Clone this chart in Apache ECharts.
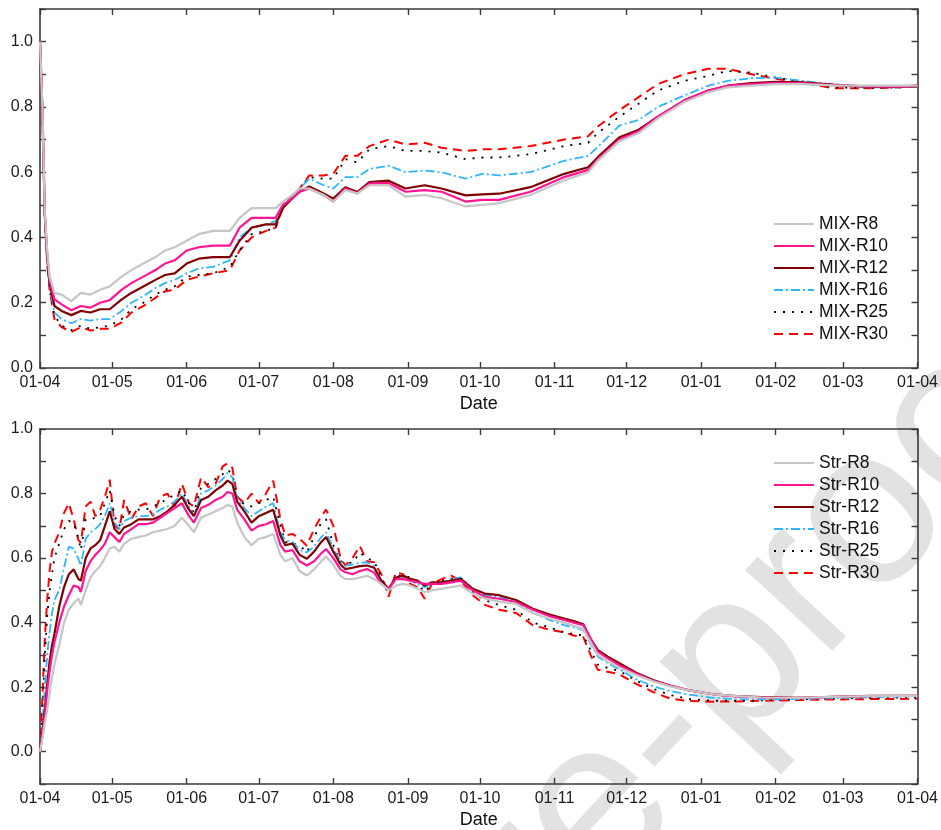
<!DOCTYPE html>
<html>
<head>
<meta charset="utf-8">
<script src="https://cdn.jsdelivr.net/npm/echarts@6/dist/echarts.min.js"></script>
<style>
  html, body { margin: 0; padding: 0; background: #ffffff; }
  #chart { width: 941px; height: 830px; }
</style>
</head>
<body>
<div id="chart"></div>
<script>
// Month boundaries shown on both date axes
const tickDates = ['2020-04-01','2020-05-01','2020-06-01','2020-07-01','2020-08-01','2020-09-01',
  '2020-10-01','2020-11-01','2020-12-01','2021-01-01','2021-02-01','2021-03-01','2021-04-01'];
const tickLabels = ['01-04','01-05','01-06','01-07','01-08','01-09','01-10','01-11','01-12','01-01','01-02','01-03','01-04'];

// ---- Upper panel: MIX strategies ----
const mixDates = ['2020-04-01','2020-04-02','2020-04-03','2020-04-04','2020-04-05','2020-04-07','2020-04-10','2020-04-14','2020-04-18','2020-04-22',
  '2020-04-26','2020-04-30','2020-05-05','2020-05-09','2020-05-14','2020-05-19','2020-05-23','2020-05-27','2020-06-01','2020-06-06',
  '2020-06-12','2020-06-19','2020-06-23','2020-06-28','2020-07-04','2020-07-08','2020-07-11','2020-07-15','2020-07-18','2020-07-22',
  '2020-07-28','2020-08-01','2020-08-06','2020-08-11','2020-08-16','2020-08-24','2020-08-31','2020-09-08','2020-09-15','2020-09-25',
  '2020-10-02','2020-10-09','2020-10-22','2020-11-05','2020-11-15','2020-11-19','2020-11-28','2020-12-06','2020-12-14','2020-12-25',
  '2021-01-04','2021-01-12','2021-01-22','2021-02-01','2021-02-12','2021-02-25','2021-03-11','2021-03-25','2021-04-01'];
const mixR8 = [1.0,0.80,0.48,0.36,0.28,0.23,0.225,0.205,0.23,0.225,
  0.24,0.25,0.28,0.30,0.32,0.34,0.36,0.37,0.39,0.41,
  0.42,0.42,0.46,0.49,0.49,0.49,0.51,0.53,0.55,0.55,
  0.53,0.51,0.545,0.535,0.56,0.56,0.525,0.53,0.52,0.495,
  0.50,0.505,0.53,0.575,0.60,0.635,0.695,0.72,0.765,0.815,
  0.845,0.86,0.865,0.87,0.87,0.866,0.865,0.865,0.866];
const mixR10 = [1.0,0.79,0.47,0.35,0.27,0.21,0.195,0.177,0.19,0.185,
  0.20,0.208,0.24,0.26,0.28,0.30,0.32,0.33,0.36,0.37,
  0.375,0.375,0.43,0.46,0.46,0.46,0.50,0.52,0.54,0.55,
  0.53,0.51,0.55,0.535,0.565,0.567,0.54,0.545,0.54,0.51,
  0.515,0.515,0.54,0.585,0.607,0.64,0.70,0.725,0.77,0.82,
  0.85,0.865,0.87,0.874,0.873,0.867,0.863,0.862,0.864];
const mixR12 = [1.0,0.79,0.47,0.34,0.26,0.19,0.175,0.162,0.175,0.17,
  0.18,0.18,0.21,0.23,0.25,0.27,0.285,0.29,0.32,0.335,
  0.34,0.34,0.39,0.43,0.44,0.44,0.49,0.52,0.54,0.556,
  0.535,0.519,0.554,0.539,0.57,0.574,0.55,0.56,0.55,0.529,
  0.532,0.534,0.554,0.595,0.615,0.646,0.707,0.73,0.77,0.82,
  0.85,0.865,0.873,0.877,0.875,0.868,0.862,0.862,0.863];
const mixR16 = [1.0,0.78,0.46,0.33,0.25,0.17,0.15,0.137,0.15,0.145,
  0.15,0.15,0.175,0.20,0.22,0.245,0.26,0.27,0.29,0.305,
  0.31,0.33,0.40,0.43,0.44,0.45,0.50,0.53,0.55,0.58,
  0.56,0.55,0.585,0.585,0.61,0.62,0.60,0.605,0.60,0.58,
  0.595,0.59,0.60,0.635,0.65,0.677,0.743,0.76,0.80,0.835,
  0.865,0.88,0.888,0.89,0.88,0.868,0.86,0.86,0.862];
const mixR25 = [1.0,0.78,0.46,0.32,0.24,0.16,0.13,0.116,0.13,0.12,
  0.125,0.13,0.15,0.18,0.20,0.225,0.24,0.25,0.28,0.285,
  0.29,0.31,0.36,0.41,0.42,0.43,0.49,0.53,0.55,0.585,
  0.58,0.58,0.64,0.63,0.67,0.68,0.665,0.665,0.66,0.64,
  0.645,0.645,0.655,0.68,0.69,0.72,0.77,0.81,0.85,0.88,
  0.895,0.91,0.905,0.89,0.875,0.86,0.858,0.86,0.865];
const mixR30 = [1.0,0.78,0.46,0.32,0.24,0.15,0.125,0.11,0.125,0.115,
  0.12,0.12,0.14,0.17,0.19,0.215,0.235,0.24,0.27,0.28,
  0.29,0.30,0.36,0.40,0.42,0.43,0.49,0.53,0.55,0.59,
  0.59,0.595,0.65,0.65,0.68,0.70,0.685,0.69,0.675,0.665,
  0.67,0.67,0.68,0.70,0.71,0.74,0.79,0.83,0.87,0.90,
  0.917,0.917,0.90,0.886,0.875,0.857,0.857,0.86,0.868];

// ---- Lower panel: Str strategies ----
const strDates = ['2020-04-01','2020-04-02','2020-04-03','2020-04-04','2020-04-05','2020-04-06','2020-04-07','2020-04-09','2020-04-11','2020-04-13',
  '2020-04-15','2020-04-17','2020-04-18','2020-04-20','2020-04-22','2020-04-24','2020-04-26','2020-04-28','2020-04-30','2020-05-02',
  '2020-05-04','2020-05-06','2020-05-09','2020-05-12','2020-05-15','2020-05-18','2020-05-21','2020-05-24','2020-05-27','2020-05-30',
  '2020-06-02','2020-06-04','2020-06-07','2020-06-10','2020-06-13','2020-06-16','2020-06-18','2020-06-20','2020-06-22','2020-06-25',
  '2020-06-28','2020-07-01','2020-07-04','2020-07-07','2020-07-10','2020-07-12','2020-07-15','2020-07-18','2020-07-21','2020-07-24',
  '2020-07-27','2020-07-29','2020-08-01','2020-08-04','2020-08-06','2020-08-09','2020-08-12','2020-08-15','2020-08-18','2020-08-21',
  '2020-08-24','2020-08-27','2020-08-30','2020-09-02','2020-09-05','2020-09-08','2020-09-11','2020-09-15','2020-09-19','2020-09-23',
  '2020-09-28','2020-10-03','2020-10-09','2020-10-16','2020-10-23','2020-10-30','2020-11-05','2020-11-09','2020-11-13','2020-11-16',
  '2020-11-19','2020-11-23','2020-11-28','2020-12-05','2020-12-12','2020-12-19','2020-12-27','2021-01-06','2021-01-16','2021-01-26',
  '2021-02-10','2021-02-25','2021-03-12','2021-04-01'];
const strR8 = [0.00,0.04,0.09,0.13,0.18,0.23,0.27,0.33,0.40,0.44,
  0.46,0.475,0.455,0.50,0.54,0.56,0.575,0.60,0.63,0.635,
  0.62,0.645,0.66,0.665,0.67,0.68,0.685,0.69,0.70,0.725,
  0.70,0.68,0.725,0.735,0.745,0.755,0.765,0.76,0.71,0.665,
  0.64,0.66,0.665,0.675,0.61,0.59,0.60,0.56,0.546,0.565,
  0.59,0.605,0.58,0.545,0.535,0.535,0.54,0.545,0.535,0.52,
  0.50,0.515,0.52,0.515,0.505,0.495,0.50,0.505,0.51,0.515,
  0.49,0.475,0.465,0.458,0.43,0.412,0.40,0.39,0.38,0.34,
  0.30,0.28,0.26,0.238,0.218,0.203,0.19,0.178,0.172,0.168,
  0.167,0.170,0.172,0.173];
const strR10 = [0.00,0.05,0.11,0.19,0.25,0.30,0.34,0.40,0.45,0.485,
  0.515,0.51,0.495,0.56,0.59,0.61,0.625,0.645,0.68,0.665,
  0.65,0.675,0.69,0.705,0.705,0.71,0.725,0.74,0.755,0.77,
  0.73,0.71,0.755,0.765,0.78,0.79,0.805,0.80,0.75,0.72,
  0.685,0.70,0.705,0.715,0.64,0.62,0.625,0.59,0.577,0.59,
  0.615,0.628,0.60,0.565,0.556,0.55,0.56,0.566,0.555,0.52,
  0.505,0.535,0.535,0.53,0.525,0.52,0.52,0.52,0.525,0.53,
  0.50,0.48,0.474,0.464,0.44,0.42,0.408,0.40,0.392,0.35,
  0.31,0.29,0.268,0.242,0.22,0.205,0.19,0.178,0.171,0.168,
  0.167,0.170,0.172,0.173];
const strR12 = [0.00,0.06,0.13,0.21,0.28,0.33,0.365,0.45,0.51,0.55,
  0.565,0.535,0.53,0.60,0.63,0.64,0.655,0.70,0.745,0.69,
  0.675,0.695,0.705,0.72,0.72,0.72,0.73,0.745,0.765,0.79,
  0.75,0.73,0.78,0.79,0.81,0.825,0.84,0.83,0.775,0.745,
  0.71,0.73,0.74,0.75,0.67,0.64,0.645,0.61,0.598,0.62,
  0.65,0.665,0.62,0.58,0.566,0.57,0.575,0.577,0.57,0.53,
  0.505,0.54,0.545,0.536,0.53,0.515,0.525,0.525,0.53,0.536,
  0.505,0.49,0.485,0.47,0.443,0.425,0.413,0.405,0.395,0.35,
  0.315,0.295,0.274,0.245,0.222,0.205,0.19,0.178,0.172,0.169,
  0.167,0.170,0.173,0.173];
const strR16 = [0.00,0.08,0.20,0.30,0.37,0.43,0.47,0.50,0.57,0.635,
  0.63,0.597,0.577,0.66,0.68,0.69,0.705,0.73,0.77,0.71,
  0.69,0.715,0.725,0.73,0.73,0.735,0.75,0.76,0.775,0.80,
  0.76,0.73,0.80,0.81,0.825,0.845,0.864,0.85,0.785,0.755,
  0.73,0.745,0.76,0.77,0.68,0.655,0.65,0.625,0.618,0.635,
  0.665,0.68,0.63,0.59,0.577,0.58,0.585,0.587,0.575,0.53,
  0.50,0.54,0.54,0.532,0.52,0.51,0.52,0.525,0.535,0.54,
  0.505,0.485,0.48,0.465,0.43,0.408,0.392,0.385,0.377,0.335,
  0.295,0.275,0.255,0.225,0.203,0.188,0.177,0.167,0.163,0.162,
  0.163,0.166,0.169,0.172];
const strR25 = [0.00,0.12,0.30,0.42,0.50,0.55,0.60,0.645,0.69,0.715,
  0.71,0.66,0.625,0.72,0.72,0.725,0.73,0.77,0.81,0.73,
  0.70,0.735,0.745,0.75,0.75,0.76,0.77,0.785,0.795,0.81,
  0.77,0.74,0.82,0.83,0.845,0.86,0.874,0.86,0.79,0.765,
  0.76,0.77,0.78,0.79,0.70,0.65,0.645,0.64,0.618,0.665,
  0.71,0.72,0.64,0.59,0.587,0.585,0.617,0.60,0.59,0.54,
  0.49,0.545,0.546,0.54,0.52,0.495,0.52,0.53,0.536,0.536,
  0.495,0.47,0.454,0.44,0.40,0.385,0.37,0.365,0.36,0.315,
  0.27,0.26,0.25,0.22,0.195,0.176,0.163,0.158,0.158,0.159,
  0.162,0.165,0.167,0.168];
const strR30 = [0.00,0.17,0.35,0.47,0.56,0.62,0.645,0.68,0.74,0.77,
  0.72,0.655,0.648,0.76,0.775,0.73,0.75,0.79,0.843,0.70,
  0.69,0.78,0.72,0.76,0.77,0.73,0.79,0.80,0.76,0.83,
  0.77,0.76,0.85,0.82,0.83,0.884,0.894,0.88,0.79,0.77,
  0.80,0.77,0.80,0.84,0.72,0.67,0.675,0.66,0.638,0.69,
  0.73,0.75,0.70,0.60,0.577,0.60,0.638,0.59,0.587,0.55,
  0.48,0.556,0.55,0.52,0.51,0.474,0.52,0.535,0.546,0.53,
  0.485,0.455,0.44,0.43,0.392,0.378,0.37,0.36,0.355,0.30,
  0.254,0.248,0.24,0.21,0.185,0.165,0.157,0.155,0.156,0.158,
  0.16,0.162,0.163,0.164];

// Series appearance shared by both panels
const styles = [
  { color: '#c6c6c6', width: 2.2, type: 'solid' },
  { color: '#ff1493', width: 2.2, type: 'solid' },
  { color: '#7f0000', width: 2.2, type: 'solid' },
  { color: '#2fb4ff', width: 1.8, type: [9, 3, 2, 3] },
  { color: '#000000', width: 1.8, type: [2, 7] },
  { color: '#ff0000', width: 2,   type: [9, 6] }
];

const FONT = '"Liberation Sans", Arial, sans-serif';
const AXIS_COLOR = '#3a3a3a';

// Dates are read as local calendar days and placed on a numeric (ms) axis
function toTime(s) {
  const p = s.split('-').map(Number);
  return new Date(p[0], p[1] - 1, p[2]).getTime();
}
const tickTimes = tickDates.map(toTime);
const xMin = tickTimes[0];
const xMax = tickTimes[tickTimes.length - 1];

function monthLabel(v) {
  const i = tickTimes.indexOf(v);
  return i >= 0 ? tickLabels[i] : '';
}
function valueLabel(v) {
  const k = Math.round(v * 10);
  return (k % 2 === 0 && k >= 0 && k <= 10) ? (k / 10).toFixed(1) : '';
}

function xAxisPair(gridIndex) {
  const base = {
    type: 'value', gridIndex: gridIndex, min: xMin, max: xMax, scale: true,
    axisLine: { show: true, onZero: false, lineStyle: { color: AXIS_COLOR, width: 1.6 } },
    axisTick: { show: true, inside: true, length: 6, customValues: tickTimes,
      lineStyle: { color: AXIS_COLOR, width: 1.4 } },
    splitLine: { show: false }
  };
  return [
    Object.assign({}, base, {
      position: 'bottom',
      name: 'Date', nameLocation: 'middle', nameGap: 27,
      nameTextStyle: { fontFamily: FONT, fontSize: 18, color: '#111' },
      axisLabel: { show: true, customValues: tickTimes, formatter: monthLabel, margin: 7,
        fontFamily: FONT, fontSize: 16, color: '#1a1a1a', hideOverlap: false }
    }),
    Object.assign({}, base, { position: 'top', axisLabel: { show: false } })
  ];
}
function yAxisPair(gridIndex, min, max) {
  const base = {
    type: 'value', gridIndex: gridIndex, min: min, max: max, interval: 0.1,
    axisLine: { show: true, onZero: false, lineStyle: { color: AXIS_COLOR, width: 1.6 } },
    axisTick: { show: true, inside: true, length: 6, lineStyle: { color: AXIS_COLOR, width: 1.4 } },
    splitLine: { show: false }
  };
  return [
    Object.assign({}, base, {
      position: 'left',
      axisLabel: { show: true, formatter: valueLabel, margin: 7, fontFamily: FONT, fontSize: 16, color: '#1a1a1a' }
    }),
    Object.assign({}, base, { position: 'right', axisLabel: { show: false } })
  ];
}

function makeSeries(names, dates, valueLists, xIdx, yIdx) {
  return names.map(function (name, i) {
    return {
      name: name, type: 'line', xAxisIndex: xIdx, yAxisIndex: yIdx,
      data: dates.map(function (d, j) { return [toTime(d), valueLists[i][j]]; }),
      symbol: 'none', showSymbol: false, smooth: false,
      lineStyle: { color: styles[i].color, width: styles[i].width, type: styles[i].type },
      itemStyle: { color: styles[i].color },
      z: 10 - i,
      animation: false
    };
  });
}

const mixNames = ['MIX-R8', 'MIX-R10', 'MIX-R12', 'MIX-R16', 'MIX-R25', 'MIX-R30'];
const strNames = ['Str-R8', 'Str-R10', 'Str-R12', 'Str-R16', 'Str-R25', 'Str-R30'];

// Legend keys show only the line sample (the marker is made invisible)
function legendAt(top, names) {
  return {
    data: names, orient: 'vertical', left: 768, top: top, padding: 5,
    itemWidth: 40, itemHeight: 14, itemGap: 0,
    itemStyle: { opacity: 0 },
    textStyle: { fontFamily: FONT, fontSize: 17.5, color: '#111', lineHeight: 22, height: 22 },
    selectedMode: false
  };
}

const chart = echarts.init(document.getElementById('chart'), null, { renderer: 'canvas' });
chart.setOption({
  animation: false,
  backgroundColor: '#ffffff',
  grid: [
    { left: 40, right: 21, top: 9, height: 359 },
    { left: 40, right: 21, top: 429, height: 358 }
  ],
  xAxis: xAxisPair(0).concat(xAxisPair(1)),
  yAxis: yAxisPair(0, 0, 1.1).concat(yAxisPair(1, -0.1, 1.0)),
  legend: [legendAt(208, mixNames), legendAt(447, strNames)],
  graphic: [{
    type: 'text', x: 448, y: 972, rotation: 47 * Math.PI / 180, z: -10, silent: true,
    style: { text: 'Journal Pre-proof', fontFamily: FONT, fontSize: 225, fill: '#e2e2e2',
      textAlign: 'center', textVerticalAlign: 'middle' }
  }],
  series: makeSeries(mixNames, mixDates, [mixR8, mixR10, mixR12, mixR16, mixR25, mixR30], 0, 0)
    .concat(makeSeries(strNames, strDates, [strR8, strR10, strR12, strR16, strR25, strR30], 2, 2))
});
</script>
</body>
</html>
